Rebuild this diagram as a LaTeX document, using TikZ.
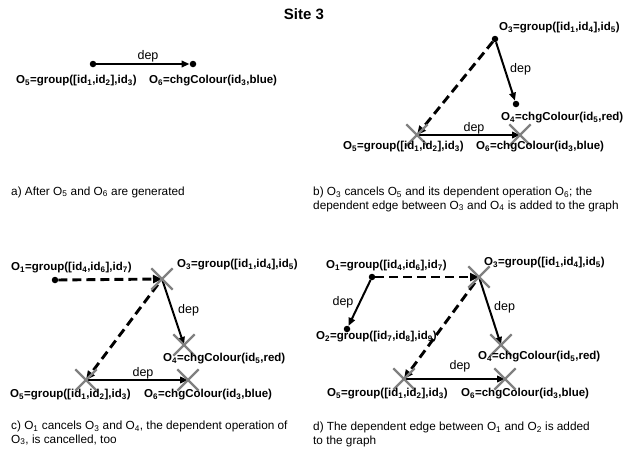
\documentclass[tikz,border=0pt]{standalone}
\usepackage{fontspec}
\setmainfont{Liberation Sans}
\usetikzlibrary{arrows.meta,shapes.misc}
\newcommand\myS[1]{\textsubscript{#1}}
\tikzset{
 lbl/.style={anchor=west, font=\fontsize{11.5}{13}\selectfont\bfseries, inner sep=0pt},
 deplbl/.style={font=\fontsize{12.5}{14}\selectfont, inner sep=0pt},
 captxt/.style={anchor=base west, align=left, font=\fontsize{11.8}{13.5}\selectfont, inner sep=0pt},
 dotpt/.style={circle, fill=black, inner sep=0pt, minimum size=6.5pt},
 xpt/.style={cross out, draw=black!50, line width=2.3pt, minimum size=19pt, inner sep=0pt},
 solidedge/.style={line width=2pt, -{Triangle[length=8pt,width=6.5pt]}},
 dashedge/.style={line width=2.9pt, dash pattern=on 9pt off 5pt, -{Triangle[length=9pt,width=8pt]}},
}
\begin{document}
\begin{tikzpicture}[x=1pt,y=-1pt]
\useasboundingbox (0,0) rectangle (634,456);
\node[font=\fontsize{15}{17}\selectfont\bfseries] (title) at (304,14) {Site 3};

% ---- panel a
\node[dotpt] (a5) at (93,64) {};
\node[dotpt] (a6) at (193,64) {};
\draw[solidedge] (a5) -- (a6);
\node[deplbl] (da) at (148,56) {dep};
\node[lbl] (la5) at (16,81) {O\myS5=group([id\myS1,id\myS2],id\myS3)};
\node[lbl] (la6) at (149,81) {O\myS6=chgColour(id\myS3,blue)};
\node[captxt] (ca) at (11,195) {a) After O\myS5 and O\myS6 are generated};

% ---- panel b
\node[dotpt] (b3) at (495,39) {};
\node[dotpt] (b4) at (516,104) {};
\coordinate (b5) at (417,135);
\coordinate (b6) at (520,135);
\draw[solidedge] (b3) -- (b4);
\draw[dashedge] (b3) -- (b5);
\draw[solidedge] (b5) -- (b6);
\node[xpt] (xb5) at (b5) {};
\node[xpt] (xb6) at (b6) {};
\node[deplbl,anchor=west] (db34) at (510,69) {dep};
\node[deplbl] (db56) at (474,128) {dep};
\node[lbl] (lb3) at (499,28) {O\myS3=group([id\myS1,id\myS4],id\myS5)};
\node[lbl] (lb4) at (501,118) {O\myS4=chgColour(id\myS5,red)};
\node[lbl] (lb5) at (343,147) {O\myS5=group([id\myS1,id\myS2],id\myS3)};
\node[lbl] (lb6) at (476,147) {O\myS6=chgColour(id\myS3,blue)};
\node[captxt] (cb) at (313,209) {b) O\myS3 cancels O\myS5 and its dependent operation O\myS6; the\\dependent edge between O\myS3 and O\myS4 is added to the graph};

% ---- panel c
\node[dotpt] (c1) at (55,280) {};
\coordinate (c3) at (162,279);
\coordinate (c4) at (184,345);
\coordinate (c5) at (86,380);
\coordinate (c6) at (188,380);
\draw[dashedge] (c1) -- (c3);
\draw[solidedge] (c3) -- (c4);
\draw[dashedge, shorten <=7pt] (c3) -- (c5);
\draw[solidedge] (c5) -- (c6);
\node[xpt] (xc3) at (c3) {};
\node[xpt] (xc4) at (c4) {};
\node[xpt] (xc5) at (c5) {};
\node[xpt] (xc6) at (c6) {};
\node[deplbl,anchor=west] (dc34) at (178,310) {dep};
\node[deplbl] (dc56) at (143,373) {dep};
\node[lbl] (lc1) at (11,268) {O\myS1=group([id\myS4,id\myS6],id\myS7)};
\node[lbl] (lc3) at (177,265) {O\myS3=group([id\myS1,id\myS4],id\myS5)};
\node[lbl] (lc4) at (163,359) {O\myS4=chgColour(id\myS5,red)};
\node[lbl] (lc5) at (10,395) {O\myS5=group([id\myS1,id\myS2],id\myS3)};
\node[lbl] (lc6) at (144,395) {O\myS6=chgColour(id\myS3,blue)};
\node[captxt] (cc) at (11,443) {c) O\myS1 cancels O\myS3 and O\myS4, the dependent operation of\\O\myS3, is cancelled, too};

% ---- panel d
\node[dotpt] (d1) at (372,277) {};
\node[dotpt] (d2) at (347,329) {};
\coordinate (d3) at (479,277);
\coordinate (d4) at (501,345);
\coordinate (d5) at (404,379);
\coordinate (d6) at (505,379);
\draw[dashedge] (d1) -- (d3);
\draw[solidedge] (d1) -- (d2);
\draw[solidedge] (d3) -- (d4);
\draw[dashedge, shorten <=7pt] (d3) -- (d5);
\draw[solidedge] (d5) -- (d6);
\node[xpt] (xd3) at (d3) {};
\node[xpt] (xd4) at (d4) {};
\node[xpt] (xd5) at (d5) {};
\node[xpt] (xd6) at (d6) {};
\node[deplbl] (dd12) at (343,302) {dep};
\node[deplbl,anchor=west] (dd34) at (494,307) {dep};
\node[deplbl] (dd56) at (460,366) {dep};
\node[lbl] (ld1) at (326,266) {O\myS1=group([id\myS4,id\myS6],id\myS7)};
\node[lbl] (ld2) at (316,337) {O\myS2=group([id\myS7,id\myS8],id\myS9)};
\node[lbl] (ld3) at (484,263) {O\myS3=group([id\myS1,id\myS4],id\myS5)};
\node[lbl] (ld4) at (478,357) {O\myS4=chgColour(id\myS5,red)};
\node[lbl] (ld5) at (327,394) {O\myS5=group([id\myS1,id\myS2],id\myS3)};
\node[lbl] (ld6) at (461,394) {O\myS6=chgColour(id\myS3,blue)};
\node[captxt] (cd) at (313,444) {d) The dependent edge between O\myS1 and O\myS2 is added\\to the graph};
\end{tikzpicture}
\end{document}
